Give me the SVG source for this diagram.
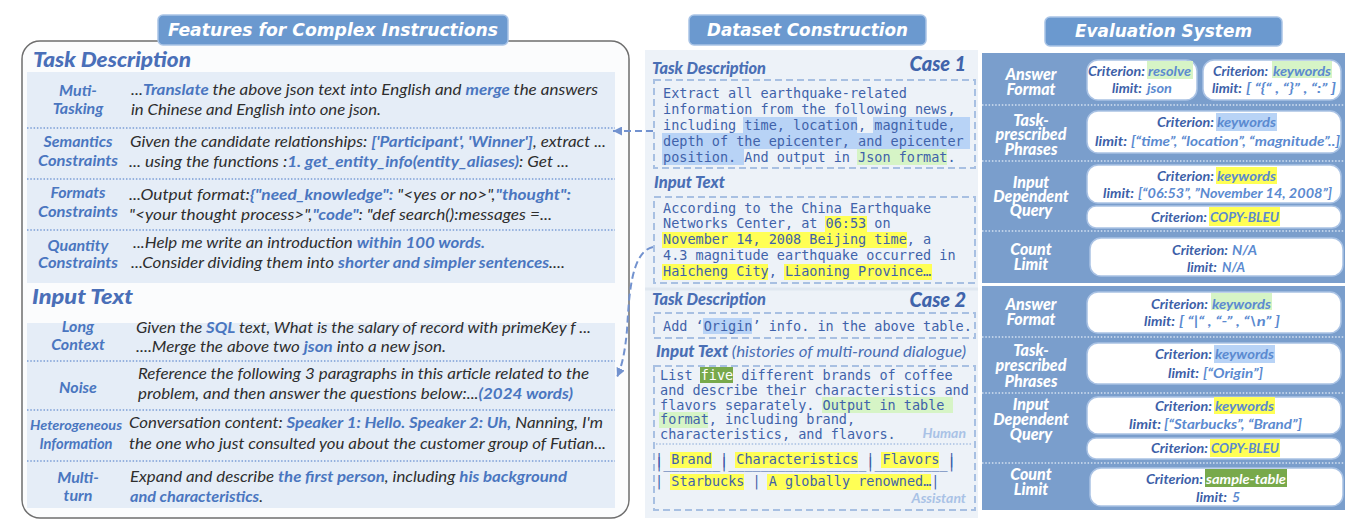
<svg xmlns="http://www.w3.org/2000/svg" width="1364" height="528" viewBox="0 0 1364 528">
<defs>
<style>
.ban{fill:#6b99cf;stroke:#a9c4e6;stroke-width:1.5}
.bant{font-family:"DejaVu Sans",sans-serif;font-weight:bold;font-style:italic;font-size:17px;fill:#fff;text-anchor:middle}
.h1{font-family:Lato,"Open Sans",sans-serif;font-weight:900;font-style:italic;font-size:21px;fill:#4a6fb8}
.blk{fill:#e5edf7}
.dot{stroke:#7a9dd6;stroke-width:1.3;stroke-dasharray:1.5 1.8;fill:none}
.lbl{font-family:Lato,"Open Sans",sans-serif;font-weight:bold;font-style:italic;font-size:16px;fill:#4a76c0;text-anchor:middle}
.body{font-family:Lato,"Open Sans",sans-serif;font-style:italic;font-size:15px;fill:#2e2e2e}
.b{font-weight:bold;fill:#4a76c0}
.h2{font-family:Lato,"Open Sans",sans-serif;font-weight:900;font-style:italic;font-size:16px;fill:#4a6fb5}
.case{font-family:Lato,"Open Sans",sans-serif;font-weight:900;font-style:italic;font-size:20px;fill:#4064ab;text-anchor:end}
.dash{fill:none;stroke:#a8c0e2;stroke-width:2;stroke-dasharray:7 4}
.mono{font-family:"DejaVu Sans Mono","Liberation Mono",monospace;font-size:13.5px;fill:#3f62aa;white-space:pre}
.role{font-family:Lato,"Open Sans",sans-serif;font-weight:bold;font-style:italic;font-size:14px;fill:#a9c2e6;text-anchor:end}
.hb{fill:#b8d3f6}
.hg{fill:#d6f4c6}
.hy{fill:#ffff55}
.hd{fill:#78a94b}
.rp{fill:#7a9ecc}
.rdot{stroke:#d4e1f1;stroke-width:1.3;stroke-dasharray:1.5 1.8;fill:none}
.rl{font-family:Lato,"Open Sans",sans-serif;font-weight:900;font-style:italic;font-size:16px;fill:#fff;text-anchor:middle}
.box{fill:#fff;stroke:#a9c2e4;stroke-width:1.5}
.cr{font-family:Lato,"Open Sans",sans-serif;font-weight:bold;font-style:italic;font-size:14px;fill:#3d5fa8}
.cv{font-family:Lato,"Open Sans",sans-serif;font-weight:bold;font-style:italic;font-size:14px;fill:#5b8ad0}
</style>
<marker id="arr" viewBox="0 0 10 10" refX="10" refY="5" markerWidth="9" markerHeight="9" markerUnits="userSpaceOnUse" orient="auto">
<path d="M0,0 L10,5 L0,10 z" fill="#7292cf"/>
</marker>
</defs>
<rect width="1364" height="528" fill="#fff"/>

<g id="features-panel">
<rect x="22" y="41" width="607" height="477" rx="18" fill="#fbfcfd" stroke="#6e6e6e" stroke-width="1.5"/>
<rect class="ban" x="158" y="15" width="350" height="30" rx="5"/>
<text class="bant" x="333" y="36" textLength="330" lengthAdjust="spacingAndGlyphs">Features for Complex Instructions</text>
<text class="h1" x="33" y="67" textLength="158" lengthAdjust="spacingAndGlyphs">Task Description</text>
<rect class="blk" x="27" y="72" width="588" height="211"/>
<line class="dot" x1="27" y1="128" x2="615" y2="128"/>
<line class="dot" x1="27" y1="179" x2="615" y2="179"/>
<line class="dot" x1="27" y1="230" x2="615" y2="230"/>

<g id="muti-tasking">
<text class="lbl" x="78" y="96">Muti-</text>
<text class="lbl" x="78" y="114">Tasking</text>
<text class="body" x="131" y="95" textLength="467" lengthAdjust="spacingAndGlyphs">...<tspan class="b">Translate</tspan> the above json text into English and <tspan class="b">merge</tspan> the answers</text>
<text class="body" x="131" y="115" textLength="250" lengthAdjust="spacingAndGlyphs">in Chinese and English into one json.</text>
</g>
<g id="semantics-constraints">
<text class="lbl" x="78" y="147">Semantics</text>
<text class="lbl" x="78" y="166" textLength="80" lengthAdjust="spacingAndGlyphs">Constraints</text>
<text class="body" x="130" y="147" textLength="476" lengthAdjust="spacingAndGlyphs">Given the candidate relationships: <tspan class="b">['Participant', 'Winner']</tspan>, extract ...</text>
<text class="body" x="129" y="167" textLength="440" lengthAdjust="spacingAndGlyphs">... using the functions :<tspan class="b">1. get_entity_info(entity_aliases)</tspan>: Get ...</text>
</g>
<g id="formats-constraints">
<text class="lbl" x="78" y="198">Formats</text>
<text class="lbl" x="78" y="217" textLength="80" lengthAdjust="spacingAndGlyphs">Constraints</text>
<text class="body" x="129" y="200" textLength="442" lengthAdjust="spacingAndGlyphs">...Output format:<tspan class="b">{"need_knowledge":</tspan> "&lt;yes or no&gt;",<tspan class="b">"thought":</tspan></text>
<text class="body" x="129" y="220" textLength="423" lengthAdjust="spacingAndGlyphs">"&lt;your thought process&gt;",<tspan class="b">"code"</tspan>: "def search():messages =...</text>
</g>
<g id="quantity-constraints">
<text class="lbl" x="78" y="251">Quantity</text>
<text class="lbl" x="78" y="268" textLength="80" lengthAdjust="spacingAndGlyphs">Constraints</text>
<text class="body" x="133" y="248" textLength="352" lengthAdjust="spacingAndGlyphs">...Help me write an introduction <tspan class="b">within 100 words.</tspan></text>
<text class="body" x="131" y="268" textLength="434" lengthAdjust="spacingAndGlyphs">...Consider dividing them into <tspan class="b">shorter and simpler sentences</tspan>....</text>
</g>

<text class="h1" x="32" y="304" textLength="101" lengthAdjust="spacingAndGlyphs">Input Text</text>
<rect class="blk" x="27" y="323" width="588" height="185"/>
<line class="dot" x1="27" y1="361" x2="615" y2="361"/>
<line class="dot" x1="27" y1="410" x2="615" y2="410"/>
<line class="dot" x1="27" y1="461" x2="615" y2="461"/>

<g id="long-context">
<text class="lbl" x="78" y="332">Long</text>
<text class="lbl" x="78" y="350">Context</text>
<text class="body" x="136" y="333" textLength="455" lengthAdjust="spacingAndGlyphs">Given the <tspan class="b">SQL</tspan> text, What is the salary of record with primeKey f ...</text>
<text class="body" x="136" y="352" textLength="310" lengthAdjust="spacingAndGlyphs">....Merge the above two <tspan class="b">json</tspan> into a new json.</text>
</g>
<g id="noise">
<text class="lbl" x="78" y="393">Noise</text>
<text class="body" x="138" y="379" textLength="451" lengthAdjust="spacingAndGlyphs">Reference the following 3 paragraphs in this article related to the</text>
<text class="body" x="138" y="399" textLength="435" lengthAdjust="spacingAndGlyphs">problem, and then answer the questions below:...<tspan class="b">(2024 words)</tspan></text>
</g>
<g id="heterogeneous-information">
<text class="lbl" x="76" y="430" style="font-size:14px" textLength="92" lengthAdjust="spacingAndGlyphs">Heterogeneous</text>
<text class="lbl" x="76" y="449" style="font-size:14.5px" textLength="73" lengthAdjust="spacingAndGlyphs">Information</text>
<text class="body" x="129" y="428" textLength="474" lengthAdjust="spacingAndGlyphs">Conversation content: <tspan class="b">Speaker 1: Hello. Speaker 2: Uh,</tspan> Nanning, I'm</text>
<text class="body" x="129" y="449" textLength="477" lengthAdjust="spacingAndGlyphs">the one who just consulted you about the customer group of Futian...</text>
</g>
<g id="multi-turn">
<text class="lbl" x="78" y="483">Multi-</text>
<text class="lbl" x="78" y="501">turn</text>
<text class="body" x="130" y="482" textLength="437" lengthAdjust="spacingAndGlyphs">Expand and describe <tspan class="b">the first person</tspan>, including <tspan class="b">his background</tspan></text>
<text class="body" x="130" y="502" textLength="133" lengthAdjust="spacingAndGlyphs"><tspan class="b">and characteristics</tspan>.</text>
</g>
</g>

<g id="dataset-panel">
<rect class="ban" x="689" y="15" width="237" height="30" rx="5"/>
<text class="bant" x="807.5" y="36" textLength="201" lengthAdjust="spacingAndGlyphs">Dataset Construction</text>
<rect x="645" y="50" width="333" height="468" fill="#edf2f8"/>
<line x1="645" y1="289" x2="978" y2="289" stroke="#e0e7f0" stroke-width="3"/>

<g id="case1">
<text class="h2" x="652" y="74" textLength="114" lengthAdjust="spacingAndGlyphs">Task Description</text>
<text class="case" x="966" y="71">Case 1</text>
<rect class="dash" x="654" y="80" width="321" height="88"/>
<rect class="hb" x="743" y="117" width="114" height="16"/>
<rect class="hb" x="873" y="117" width="97" height="16"/>
<rect class="hb" x="662" y="133" width="308" height="16"/>
<rect class="hb" x="662" y="149" width="82" height="16"/>
<rect class="hg" x="857" y="149" width="90" height="16"/>
<text class="mono" x="663" y="98">Extract all earthquake-related</text>
<text class="mono" x="663" y="114">information from the following news,</text>
<text class="mono" x="663" y="130">including time, location, magnitude,</text>
<text class="mono" x="663" y="146">depth of the epicenter, and epicenter</text>
<text class="mono" x="663" y="162">position. And output in Json format.</text>

<text class="h2" x="654" y="188" textLength="71" lengthAdjust="spacingAndGlyphs">Input Text</text>
<rect class="dash" x="654" y="197" width="321" height="86"/>
<rect class="hy" x="825" y="216" width="42" height="16"/>
<rect class="hy" x="662" y="232" width="245" height="16"/>
<rect class="hy" x="662" y="264" width="106" height="16"/>
<rect class="hy" x="784" y="264" width="148" height="16"/>
<text class="mono" x="663" y="213">According to the China Earthquake</text>
<text class="mono" x="663" y="228">Networks Center, at 06:53 on</text>
<text class="mono" x="663" y="244">November 14, 2008 Beijing time, a</text>
<text class="mono" x="663" y="260">4.3 magnitude earthquake occurred in</text>
<text class="mono" x="663" y="276">Haicheng City, Liaoning Province…</text>
</g>

<g id="case2">
<text class="h2" x="652" y="305" textLength="114" lengthAdjust="spacingAndGlyphs">Task Description</text>
<text class="case" x="966" y="307">Case 2</text>
<rect class="dash" x="654" y="313" width="321" height="25"/>
<rect class="hb" x="703" y="318" width="49" height="16"/>
<text class="mono" x="663" y="331">Add ‘Origin’ info. in the above table.</text>

<text class="h2" x="656" y="357" textLength="310" lengthAdjust="spacingAndGlyphs">Input Text <tspan style="font-weight:normal">(histories of multi-round dialogue)</tspan></text>
<rect class="dash" x="654" y="366" width="321" height="144"/>
<rect class="hd" x="700" y="367" width="33" height="16"/>
<rect class="hg" x="822" y="397" width="131" height="16"/>
<rect class="hg" x="659" y="412" width="49" height="16"/>
<text class="mono" x="660" y="380">List <tspan fill="#fff">five</tspan> different brands of coffee</text>
<text class="mono" x="660" y="395">and describe their characteristics and</text>
<text class="mono" x="660" y="410">flavors separately. Output in table</text>
<text class="mono" x="660" y="424">format, including brand,</text>
<text class="mono" x="660" y="439">characteristics, and flavors.</text>
<text class="role" x="966" y="438">Human</text>
<line x1="656" y1="444" x2="971" y2="444" stroke="#a8c0e2" stroke-width="1.3" stroke-dasharray="1.5 1.8"/>
<rect class="hy" x="670" y="452" width="42" height="16"/>
<rect class="hy" x="735" y="452" width="123" height="16"/>
<rect class="hy" x="881" y="452" width="58" height="16"/>
<rect class="hy" x="670" y="474" width="74" height="16"/>
<rect class="hy" x="767" y="474" width="164" height="16"/>
<text class="mono" x="655" y="464">| Brand | Characteristics | Flavors |</text>
<text class="mono" x="655" y="468">|_______|_________________|_________|</text>
<text class="mono" x="655" y="486">| Starbucks | A globally renowned…|</text>
<text class="role" x="966" y="503">Assistant</text>
</g>
</g>

<g id="evaluation-panel">
<rect class="ban" x="1045" y="17" width="237" height="29" rx="5"/>
<text class="bant" x="1163.5" y="37" textLength="177" lengthAdjust="spacingAndGlyphs">Evaluation System</text>
<rect class="rp" x="982" y="53" width="363" height="230"/>
<rect class="rp" x="982" y="286" width="363" height="224"/>
<line class="rdot" x1="982" y1="105" x2="1345" y2="105"/>
<line class="rdot" x1="982" y1="161" x2="1345" y2="161"/>
<line class="rdot" x1="982" y1="231" x2="1345" y2="231"/>
<line class="rdot" x1="982" y1="337" x2="1345" y2="337"/>
<line class="rdot" x1="982" y1="393" x2="1345" y2="393"/>
<line class="rdot" x1="982" y1="463" x2="1345" y2="463"/>

<g id="eval1-answer-format">
<text class="rl" x="1031" y="80">Answer</text>
<text class="rl" x="1031" y="95">Format</text>
<rect class="box" x="1087" y="60" width="110" height="40" rx="11"/>
<rect class="hg" x="1147" y="61" width="46" height="18"/>
<text class="cr" x="1088" y="76" textLength="57" lengthAdjust="spacingAndGlyphs">Criterion:</text>
<text class="cv" x="1148" y="76" textLength="43" lengthAdjust="spacingAndGlyphs">resolve</text>
<text class="cr" x="1112" y="93" textLength="30" lengthAdjust="spacingAndGlyphs">limit:</text>
<text class="cv" x="1147" y="93" textLength="25" lengthAdjust="spacingAndGlyphs">json</text>
<rect class="box" x="1203" y="60" width="138" height="40" rx="11"/>
<rect class="hg" x="1272" y="61" width="60" height="17"/>
<text class="cr" x="1213" y="76" textLength="55" lengthAdjust="spacingAndGlyphs">Criterion:</text>
<text class="cv" x="1273" y="76" textLength="58" lengthAdjust="spacingAndGlyphs">keywords</text>
<text class="cr" x="1212" y="93" textLength="30" lengthAdjust="spacingAndGlyphs">limit:</text>
<text class="cv" x="1246" y="93" textLength="90" lengthAdjust="spacingAndGlyphs">[ “{“ , “}” , “:” ]</text>
</g>
<g id="eval1-task-phrases">
<text class="rl" x="1031" y="126">Task-</text>
<text class="rl" x="1031" y="140">prescribed</text>
<text class="rl" x="1031" y="155">Phrases</text>
<rect class="box" x="1087" y="111" width="254" height="42" rx="11"/>
<rect class="hb" x="1216" y="113" width="61" height="18"/>
<text class="cr" x="1157" y="127" textLength="57" lengthAdjust="spacingAndGlyphs">Criterion:</text>
<text class="cv" x="1217" y="127" textLength="59" lengthAdjust="spacingAndGlyphs">keywords</text>
<text class="cr" x="1095" y="146" textLength="32" lengthAdjust="spacingAndGlyphs">limit:</text>
<text class="cv" x="1131" y="146" textLength="209" lengthAdjust="spacingAndGlyphs">[“time”, “location”, “magnitude”..]</text>
</g>
<g id="eval1-input-query">
<text class="rl" x="1031" y="188">Input</text>
<text class="rl" x="1031" y="202">Dependent</text>
<text class="rl" x="1031" y="216">Query</text>
<rect class="box" x="1087" y="165" width="254" height="38" rx="11"/>
<rect class="hy" x="1216" y="167" width="61" height="17"/>
<text class="cr" x="1157" y="181" textLength="57" lengthAdjust="spacingAndGlyphs">Criterion:</text>
<text class="cv" x="1217" y="181" textLength="59" lengthAdjust="spacingAndGlyphs">keywords</text>
<text class="cr" x="1103" y="198" textLength="31" lengthAdjust="spacingAndGlyphs">limit:</text>
<text class="cv" x="1138" y="198" textLength="194" lengthAdjust="spacingAndGlyphs">[“06:53”, ”November 14, 2008”]</text>
<rect class="box" x="1087" y="206" width="254" height="22" rx="9"/>
<rect class="hy" x="1209" y="207" width="71" height="19"/>
<text class="cr" x="1151" y="222" textLength="56" lengthAdjust="spacingAndGlyphs">Criterion:</text>
<text class="cv" x="1210" y="222" textLength="69" lengthAdjust="spacingAndGlyphs">COPY-BLEU</text>
</g>
<g id="eval1-count-limit">
<text class="rl" x="1031" y="255">Count</text>
<text class="rl" x="1031" y="270">Limit</text>
<rect class="box" x="1090" y="238" width="253" height="38" rx="11"/>
<text class="cr" x="1172" y="255" textLength="56" lengthAdjust="spacingAndGlyphs">Criterion:</text>
<text class="cv" x="1232" y="255" textLength="25" lengthAdjust="spacingAndGlyphs">N/A</text>
<text class="cr" x="1187" y="272" textLength="30" lengthAdjust="spacingAndGlyphs">limit:</text>
<text class="cv" x="1222" y="272" textLength="23" lengthAdjust="spacingAndGlyphs">N/A</text>
</g>

<g id="eval2-answer-format">
<text class="rl" x="1031" y="310">Answer</text>
<text class="rl" x="1031" y="325">Format</text>
<rect class="box" x="1087" y="292" width="254" height="41" rx="11"/>
<rect class="hg" x="1211" y="293" width="61" height="17"/>
<text class="cr" x="1151" y="309" textLength="57" lengthAdjust="spacingAndGlyphs">Criterion:</text>
<text class="cv" x="1212" y="309" textLength="59" lengthAdjust="spacingAndGlyphs">keywords</text>
<text class="cr" x="1144" y="326" textLength="31" lengthAdjust="spacingAndGlyphs">limit:</text>
<text class="cv" x="1179" y="326" textLength="101" lengthAdjust="spacingAndGlyphs">[ “|“ , “-” , “\n” ]</text>
</g>
<g id="eval2-task-phrases">
<text class="rl" x="1031" y="356">Task-</text>
<text class="rl" x="1031" y="371">prescribed</text>
<text class="rl" x="1031" y="387">Phrases</text>
<rect class="box" x="1087" y="343" width="254" height="41" rx="11"/>
<rect class="hb" x="1214" y="345" width="61" height="18"/>
<text class="cr" x="1155" y="359" textLength="57" lengthAdjust="spacingAndGlyphs">Criterion:</text>
<text class="cv" x="1215" y="359" textLength="59" lengthAdjust="spacingAndGlyphs">keywords</text>
<text class="cr" x="1168" y="378" textLength="31" lengthAdjust="spacingAndGlyphs">limit:</text>
<text class="cv" x="1203" y="378" textLength="60" lengthAdjust="spacingAndGlyphs">[“Origin”]</text>
</g>
<g id="eval2-input-query">
<text class="rl" x="1031" y="410">Input</text>
<text class="rl" x="1031" y="425">Dependent</text>
<text class="rl" x="1031" y="440">Query</text>
<rect class="box" x="1087" y="397" width="254" height="37" rx="11"/>
<rect class="hy" x="1214" y="397" width="61" height="17"/>
<text class="cr" x="1155" y="411" textLength="57" lengthAdjust="spacingAndGlyphs">Criterion:</text>
<text class="cv" x="1215" y="411" textLength="59" lengthAdjust="spacingAndGlyphs">keywords</text>
<text class="cr" x="1129" y="429" textLength="32" lengthAdjust="spacingAndGlyphs">limit:</text>
<text class="cv" x="1164" y="429" textLength="138" lengthAdjust="spacingAndGlyphs">[“Starbucks”, “Brand”]</text>
<rect class="box" x="1087" y="438" width="254" height="21" rx="9"/>
<rect class="hy" x="1210" y="439" width="70" height="18"/>
<text class="cr" x="1151" y="453" textLength="57" lengthAdjust="spacingAndGlyphs">Criterion:</text>
<text class="cv" x="1211" y="453" textLength="68" lengthAdjust="spacingAndGlyphs">COPY-BLEU</text>
</g>
<g id="eval2-count-limit">
<text class="rl" x="1031" y="480">Count</text>
<text class="rl" x="1031" y="495">Limit</text>
<rect class="box" x="1090" y="468" width="253" height="38" rx="11"/>
<rect class="hd" x="1205" y="469" width="82" height="18"/>
<text class="cr" x="1146" y="484" textLength="57" lengthAdjust="spacingAndGlyphs">Criterion:</text>
<text class="cv" x="1206" y="484" textLength="80" lengthAdjust="spacingAndGlyphs" style="fill:#fff">sample-table</text>
<text class="cr" x="1196" y="502" textLength="31" lengthAdjust="spacingAndGlyphs">limit:</text>
<text class="cv" x="1232" y="502">5</text>
</g>
</g>

<g id="connectors" fill="none" stroke="#7292cf" stroke-width="2" stroke-dasharray="7 4">
<path d="M653,131 H613" marker-end="url(#arr)"/>
<path d="M653,247 C630,252 629,300 627,330 C625,352 622,366 617,377" marker-end="url(#arr)"/>
</g>
</svg>
